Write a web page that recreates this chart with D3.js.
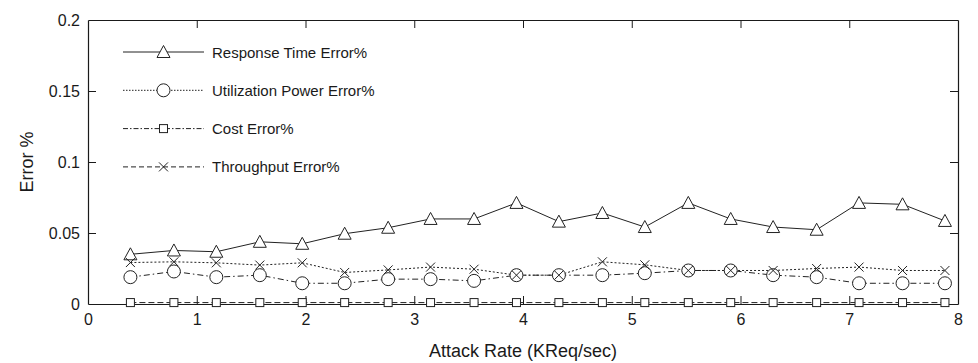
<!DOCTYPE html>
<html>
<head>
<meta charset="utf-8">
<script src="https://cdn.jsdelivr.net/npm/d3@7"></script>
<style>
  html, body { margin: 0; padding: 0; background: #fff; }
  svg { display: block; font-family: "Liberation Sans", Arial, sans-serif; }
</style>
</head>
<body>
<svg id="chart" width="978" height="363"></svg>
<script>
// ---- data ----
const attackRate = [0.39, 0.79, 1.18, 1.58, 1.97, 2.36, 2.76, 3.15, 3.55, 3.94,
                    4.33, 4.73, 5.12, 5.52, 5.91, 6.30, 6.70, 7.09, 7.49, 7.88];
const responseTimeErr = [0.035, 0.0377, 0.0368, 0.0438, 0.0424, 0.0495, 0.0537, 0.0599, 0.0599, 0.0712,
                         0.058, 0.0641, 0.0542, 0.0712, 0.0599, 0.0542, 0.0523, 0.0712, 0.0702, 0.0585];
const utilizationErr = [0.0189, 0.0229, 0.0189, 0.0203, 0.0146, 0.0146, 0.0175, 0.0175, 0.0163, 0.0203,
                        0.0203, 0.0203, 0.0217, 0.0236, 0.0236, 0.0203, 0.0189, 0.0146, 0.0146, 0.0146];
const costErr = [0.001, 0.001, 0.001, 0.001, 0.001, 0.001, 0.001, 0.001, 0.001, 0.001,
                 0.001, 0.001, 0.001, 0.001, 0.001, 0.001, 0.001, 0.001, 0.001, 0.001];
const throughputErr = [0.0292, 0.0297, 0.029, 0.0274, 0.029, 0.0222, 0.024, 0.026, 0.0245, 0.0203,
                       0.0203, 0.0297, 0.0276, 0.0236, 0.0236, 0.0236, 0.025, 0.026, 0.0236, 0.0236];
const seriesNames = ["Response Time Error%", "Utilization Power Error%", "Cost Error%", "Throughput Error%"];
const xTicks = [0, 1, 2, 3, 4, 5, 6, 7, 8];
const yTicks = [0, 0.05, 0.1, 0.15, 0.2];
const xLabel = "Attack Rate (KReq/sec)";
const yLabel = "Error %";

// ---- layout ----
const W = 978, H = 363;
const m = { left: 88, right: 20, top: 20, bottom: 59 };
const iw = W - m.left - m.right, ih = H - m.top - m.bottom;
const ink = "#1a1a1a";

const svg = d3.select("#chart");
const g = svg.append("g").attr("transform", `translate(${m.left},${m.top})`);

const x = d3.scaleLinear().domain([0, 8]).range([0, iw]);
const y = d3.scaleLinear().domain([0, 0.2]).range([ih, 0]);

// axes (ticks inward, box on)
const tickLen = 8;
const xb = g.append("g").attr("transform", `translate(0,${ih})`)
  .call(d3.axisBottom(x).tickValues(xTicks).tickFormat(d3.format("d")).tickSizeInner(-tickLen).tickSizeOuter(0).tickPadding(10));
const xt = g.append("g")
  .call(d3.axisTop(x).tickValues(xTicks).tickFormat("").tickSizeInner(-tickLen).tickSizeOuter(0));
const yl = g.append("g")
  .call(d3.axisLeft(y).tickValues(yTicks).tickFormat(d => d === 0 ? "0" : String(d)).tickSizeInner(-tickLen).tickSizeOuter(0).tickPadding(8));
const yr = g.append("g").attr("transform", `translate(${iw},0)`)
  .call(d3.axisRight(y).tickValues(yTicks).tickFormat("").tickSizeInner(-tickLen).tickSizeOuter(0));
[xb, xt, yl, yr].forEach(a => {
  a.select(".domain").attr("stroke", ink).attr("stroke-width", 1.2);
  a.selectAll(".tick line").attr("stroke", ink).attr("stroke-width", 1);
  a.selectAll("text").attr("fill", ink).style("font-size", "16px").style("font-family", "'Liberation Sans', Arial, sans-serif");
});
// hide tick marks at ends (box corners)
[xb, xt].forEach(a => a.selectAll(".tick").filter(d => d === 0 || d === 8).select("line").remove());
[yl, yr].forEach(a => a.selectAll(".tick").filter(d => d === 0 || d === 0.2).select("line").remove());

// axis titles
svg.append("text").attr("x", m.left + iw / 2).attr("y", 357)
  .attr("text-anchor", "middle").attr("fill", ink).style("font-size", "18px").text(xLabel);
svg.append("text").attr("transform", `translate(33,${m.top + ih / 2}) rotate(-90)`)
  .attr("text-anchor", "middle").attr("fill", ink).style("font-size", "18px").text(yLabel);

// ---- series ----
const line = vals => d3.line().x((d, i) => x(attackRate[i])).y(d => y(d))(vals);

const lineColor = "#222";
// plot line styles as seen in the chart
const plotSeries = [
  { vals: responseTimeErr, dash: null, marker: "triangle" },
  { vals: utilizationErr, dash: "6,3,1.5,3", marker: "circle" },
  { vals: costErr, dash: "6,3", marker: "square" },
  { vals: throughputErr, dash: "2,2", marker: "cross" }
];
// legend line styles as seen in the legend
const legendDash = [null, "1.5,1.5", "5,2,1.5,2", "5,3"];

function drawMarker(sel, type, cx, cy) {
  if (type === "triangle") {
    const p = [[cx, cy - 6.5], [cx - 6.5, cy + 5.5], [cx + 6.5, cy + 5.5]];
    sel.append("path").attr("d", "M" + p.join("L") + "Z")
      .attr("fill", "#fff").attr("stroke", lineColor).attr("stroke-width", 1);
  } else if (type === "circle") {
    sel.append("circle").attr("cx", cx).attr("cy", cy).attr("r", 6.5)
      .attr("fill", "#fff").attr("stroke", lineColor).attr("stroke-width", 1);
  } else if (type === "square") {
    sel.append("rect").attr("x", cx - 4).attr("y", cy - 4).attr("width", 8).attr("height", 8)
      .attr("fill", "#fff").attr("stroke", lineColor).attr("stroke-width", 1);
  } else if (type === "cross") {
    const s = 4.5;
    sel.append("path").attr("d", `M${cx - s},${cy - s}L${cx + s},${cy + s}M${cx - s},${cy + s}L${cx + s},${cy - s}`)
      .attr("fill", "none").attr("stroke", lineColor).attr("stroke-width", 1);
  }
}

plotSeries.forEach(s => {
  const sg = g.append("g");
  sg.append("path").attr("d", line(s.vals)).attr("fill", "none")
    .attr("stroke", lineColor).attr("stroke-width", 1)
    .attr("stroke-dasharray", s.dash);
});
plotSeries.forEach(s => {
  const mg = g.append("g");
  s.vals.forEach((v, i) => drawMarker(mg, s.marker, x(attackRate[i]), y(v)));
});

// ---- legend ----
const lg = svg.append("g");
const legendY0 = 52, legendStep = 38.3;
seriesNames.forEach((name, k) => {
  const ly = legendY0 + k * legendStep;
  lg.append("line").attr("x1", 123).attr("x2", 204).attr("y1", ly).attr("y2", ly)
    .attr("stroke", lineColor).attr("stroke-width", 1).attr("stroke-dasharray", legendDash[k]);
  drawMarker(lg, plotSeries[k].marker, 163.5, ly);
  lg.append("text").attr("x", 212).attr("y", ly + 5.5).attr("fill", ink)
    .style("font-size", "15px").text(name);
});
</script>
</body>
</html>
